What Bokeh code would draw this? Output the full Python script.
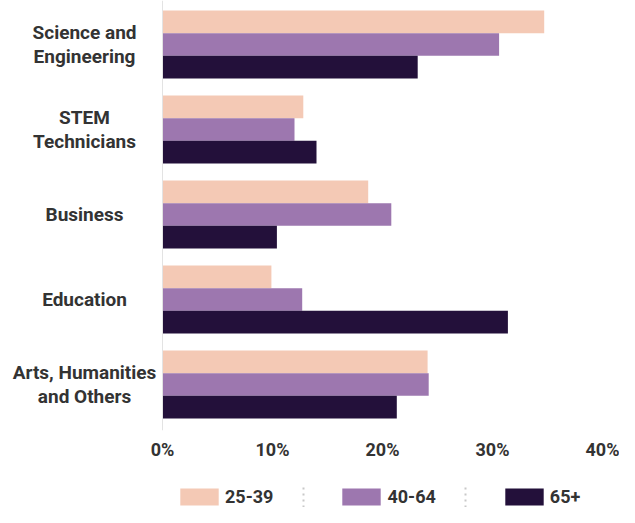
from bokeh.plotting import figure
from bokeh.layouts import column
from bokeh.models import Range1d, Span, FixedTicker, Legend, LegendItem, ColumnDataSource
from bokeh.core.properties import value
from bokeh.embed import file_html
from bokeh.resources import INLINE

categories = ["Science and\nEngineering", "STEM\nTechnicians", "Business", "Education",
              "Arts, Humanities\nand Others"]
series_names = ["25-39", "40-64", "65+"]
v_25_39 = [34.7, 12.8, 18.7, 9.9, 24.1]
v_40_64 = [30.6, 12.0, 20.8, 12.7, 24.2]
v_65p = [23.2, 14.0, 10.4, 31.4, 21.3]
tick_values = [0, 10, 20, 30, 40]
tick_labels = {0: "0%", 10: "10%", 20: "20%", 30: "30%", 40: "40%"}

colors = ["#F4C9B5", "#9D77AF", "#23103A"]
FONT = "Roboto"
TEXT = "#333333"

ypos = [-i for i in range(len(categories))]
bar_h = 0.267
offsets = [bar_h, 0.0, -bar_h]

W = 619
H_MAIN, H_LEG = 467, 40
px_per = 11.0
x0 = 162
p = figure(width=W, height=H_MAIN, output_backend="svg", toolbar_location=None,
           x_range=Range1d(-x0 / px_per, (W - x0) / px_per),
           y_range=Range1d(-4.5412, 0.5176),
           y_axis_location=None, min_border_left=0, min_border_right=0,
           min_border_top=0, min_border_bottom=37)
p.outline_line_color = None
p.xgrid.visible = False
p.ygrid.visible = False

sources = []
for vals, off, col in zip([v_25_39, v_40_64, v_65p], offsets, colors):
    src = ColumnDataSource(dict(y=[y + off for y in ypos], right=vals))
    sources.append(src)
    p.hbar(y="y", left=0, right="right", height=bar_h, source=src,
           fill_color=col, line_color=None)

p.add_layout(Span(location=0, dimension="height", line_color="#e3e3e3", line_width=1))

p.text(x=[-7.09] * len(categories), y=ypos, text=categories,
       text_align="center", text_baseline="middle",
       text_font=value(FONT), text_font_style="bold", text_font_size="19px",
       text_color=TEXT, text_line_height=1.08)

ax = p.xaxis[0]
ax.ticker = FixedTicker(ticks=tick_values)
ax.major_label_overrides = tick_labels
ax.axis_line_color = None
ax.major_tick_line_color = None
ax.minor_tick_line_color = None
ax.major_tick_out = 0
ax.major_tick_in = 0
ax.major_label_standoff = 8
ax.major_label_text_font = FONT
ax.major_label_text_font_style = "bold"
ax.major_label_text_font_size = "18px"
ax.major_label_text_color = TEXT

# legend strip (same data sources; bars fall outside this strip's range)
lg = figure(width=W, height=H_LEG, output_backend="svg", toolbar_location=None,
            x_range=Range1d(0, W), y_range=Range1d(0, H_LEG),
            x_axis_location=None, y_axis_location=None,
            min_border_left=0, min_border_right=0, min_border_top=0, min_border_bottom=0)
lg.outline_line_color = None
lg.xgrid.visible = False
lg.ygrid.visible = False
leg_rs = [lg.hbar(y="y", left=0, right="right", height=bar_h, source=s,
                  fill_color=c, line_color=None)
          for s, c in zip(sources, colors)]
sep_x = [303, 465]
lg.segment(x0=sep_x, y0=[0, 0], x1=sep_x, y1=[21, 21], line_color="#c8c8c8",
           line_width=2, line_dash="2 4")
legend = Legend(items=[LegendItem(label=n, renderers=[r]) for n, r in zip(series_names, leg_rs)],
                orientation="horizontal", location=(175, 0),
                glyph_width=48, glyph_height=21, label_standoff=2, spacing=64,
                padding=0, margin=0, border_line_color=None, background_fill_alpha=0,
                label_text_font=FONT, label_text_font_style="bold",
                label_text_font_size="18px", label_text_color=TEXT)
lg.add_layout(legend, "center")

layout = column(p, lg, spacing=0)
open("out.html", "w").write(file_html(layout, INLINE))
